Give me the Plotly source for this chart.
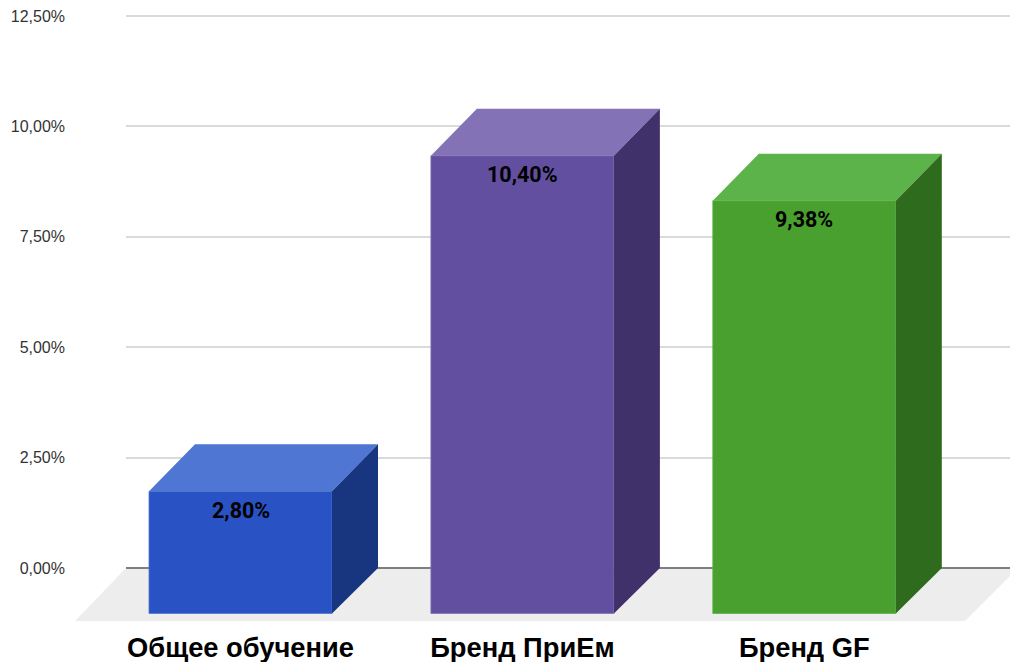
import plotly.graph_objects as go

categories = ["Общее обучение", "Бренд ПриЕм", "Бренд GF"]
values = [2.80, 10.40, 9.38]
value_labels = ["2,80%", "10,40%", "9,38%"]
y_ticks = [0, 2.5, 5, 7.5, 10, 12.5]
y_tick_labels = ["0,00%", "2,50%", "5,00%", "7,50%", "10,00%", "12,50%"]
front_colors = ["#2953C4", "#624FA0", "#49A02E"]
top_colors = ["#4F76D2", "#8372B5", "#5CB349"]
side_colors = ["#18367F", "#40316A", "#2F6B1C"]

W, H = 1010, 662
PLOT_L, PLOT_R, PLOT_T, PLOT_B = 126, 1010, 12, 629
ZERO_PX = 568.0
PX_PER_Y = (ZERO_PX - 16) / 12.5
CENTER0_PX = 240.5
PX_PER_X = 281.9

x_range = [(PLOT_L - CENTER0_PX) / PX_PER_X, (PLOT_R - CENTER0_PX) / PX_PER_X]
y_range = [(ZERO_PX - PLOT_B) / PX_PER_Y, (ZERO_PX - PLOT_T) / PX_PER_Y]

bar_w = 183 / PX_PER_X
dx = 46 / PX_PER_X
top_drop = 47 / PX_PER_Y      # front top edge sits this far below the value
base_drop = 45.5 / PX_PER_Y   # front bottom edge sits this far below zero
floor_drop = 53 / PX_PER_Y


def paper_x(px):
    return (px - PLOT_L) / (PLOT_R - PLOT_L)


fig = go.Figure()

fig.add_trace(go.Bar(
    x=list(range(len(values))),
    y=[v - top_drop + base_drop for v in values],
    base=-base_drop,
    width=bar_w,
    marker=dict(color=front_colors, line=dict(color=top_colors, width=0.8)),
    hoverinfo="skip",
    showlegend=False,
))

for i, v in enumerate(values):
    l, r = i - bar_w / 2, i + bar_w / 2
    front_top = v - top_drop
    fig.add_trace(go.Scatter(
        x=[l, r, r + dx, l + dx, l], y=[front_top, front_top, v, v, front_top],
        mode="lines", fill="toself", fillcolor=top_colors[i],
        line=dict(width=0), hoverinfo="skip", showlegend=False,
    ))
    fig.add_trace(go.Scatter(
        x=[r, r + dx, r + dx, r, r], y=[front_top, v, 0, -base_drop, front_top],
        mode="lines", fill="toself", fillcolor=side_colors[i],
        line=dict(width=0), hoverinfo="skip", showlegend=False,
    ))
    fig.add_annotation(
        x=i, y=front_top, yshift=-19, text=value_labels[i], showarrow=False,
        font=dict(family="Roboto", size=21.5, color="#000000", weight="bold"),
    )

fig.add_shape(
    type="path", layer="below", xref="paper", yref="y",
    path=(f"M {paper_x(75)} {-floor_drop} L {paper_x(965)} {-floor_drop} "
          f"L {paper_x(1018)} 0 L {paper_x(126)} 0 Z"),
    fillcolor="#EDEDED", line=dict(width=0),
)

fig.update_layout(
    width=W, height=H, autosize=False,
    margin=dict(l=PLOT_L, r=W - PLOT_R, t=PLOT_T, b=H - PLOT_B, pad=0),
    paper_bgcolor="#FFFFFF", plot_bgcolor="#FFFFFF",
    showlegend=False,
    xaxis=dict(
        range=x_range, tickmode="array", tickvals=list(range(len(categories))),
        ticktext=categories, showgrid=False, zeroline=False, showline=False, ticks="",
        ticklabelstandoff=0, automargin=False,
        tickfont=dict(family="Liberation Sans", size=27.3, color="#000000", weight="bold"),
    ),
    yaxis=dict(
        range=y_range, tickmode="array", tickvals=y_ticks, ticktext=y_tick_labels,
        showgrid=True, gridcolor="#DADADA", gridwidth=1.5,
        zeroline=True, zerolinecolor="#7F7F7F", zerolinewidth=2,
        showline=False, ticks="", ticklabelstandoff=60, automargin=False,
        tickfont=dict(family="Liberation Sans", size=16, color="#333333"),
    ),
)

fig.write_html(
    "out.html",
    config=dict(displayModeBar=False),
    post_script="document.body.style.margin='0';document.documentElement.style.overflow='hidden';",
)
